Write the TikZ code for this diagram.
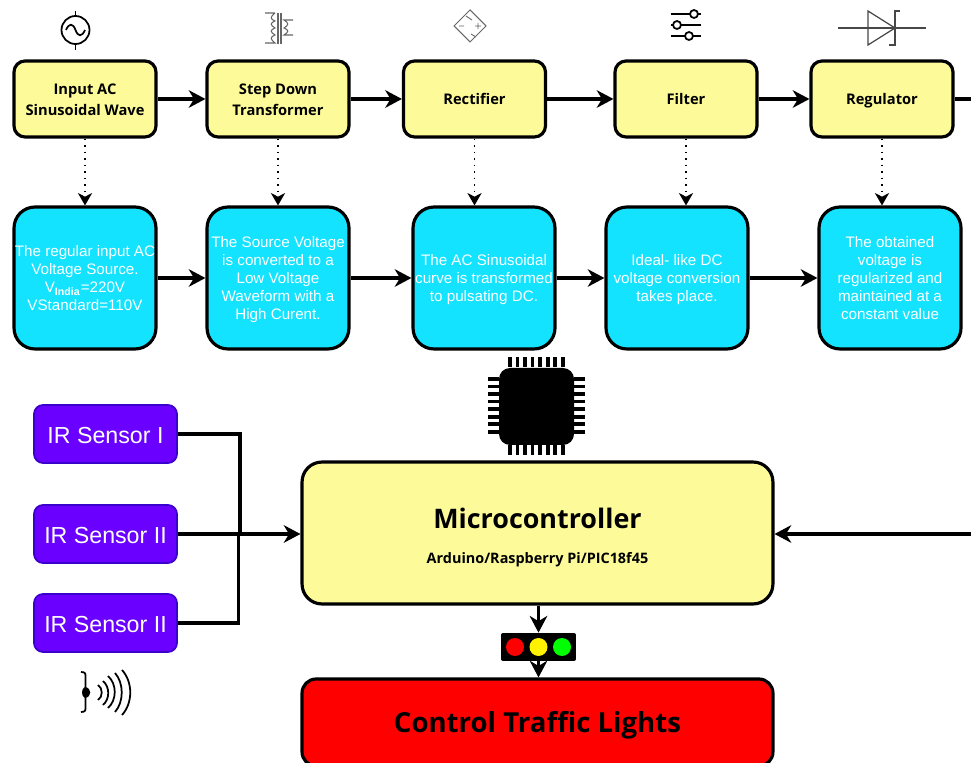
\documentclass[tikz,border=0pt]{standalone}
\usepackage{fontspec}
\setmainfont{Liberation Sans}
\newfontfamily\opensans{Open Sans}
\usepackage{tikz}
\usetikzlibrary{arrows.meta}

\definecolor{boxyellow}{HTML}{FDFB99}
\definecolor{boxcyan}{HTML}{13E3FF}
\definecolor{boxpurple}{HTML}{6A00FF}
\definecolor{edgepurple}{HTML}{3A00CC}
\definecolor{icongray}{HTML}{666666}

\newcommand{\yellowline}{\rule{0pt}{9.6pt}}
\newcommand{\cyanline}{\rule{0pt}{8.6pt}}

\tikzset{
	blockbox/.style={draw, line width=1.8pt, inner sep=0pt, align=center},
	yellowbox/.style={blockbox, fill=boxyellow, minimum width=2.84cm, minimum height=1.52cm, rounded corners=0.22cm, font=\opensans\bfseries\fontsize{8.35}{12}\selectfont, execute at begin node={\rule{0pt}{9.4pt}}, execute at end node={\rule[-2.6pt]{0pt}{2.6pt}}},
	cyanbox/.style={blockbox, fill=boxcyan, text=white, minimum width=2.84cm, minimum height=2.84cm, rounded corners=0.42cm, font=\fontsize{8.65}{10.2}\selectfont, execute at end node={\rule[-2pt]{0pt}{2pt}}},
	sensorbox/.style={draw=edgepurple, fill=boxpurple, line width=1pt, text=white, inner sep=0pt, minimum width=2.86cm, minimum height=1.16cm, rounded corners=0.18cm, font=\fontsize{13.2}{16}\selectfont, execute at begin node={\rule{0pt}{14pt}}, execute at end node={\rule[-3.4pt]{0pt}{3.4pt}}},
	wire/.style={line width=2pt, -{Stealth[length=9.5pt, width=10pt, inset=3pt]}},
	plainwire/.style={line width=2pt},
	dottedwire/.style={line width=0.9pt, dash pattern=on 1pt off 2.7pt, -{Stealth[length=7pt, width=8pt, inset=2pt]}},
	lamp/.style={circle, inner sep=0pt, minimum size=0.36cm},
	pins/.style={line width=5.7pt, dash pattern=on 2.2pt off 2.09pt}
}

\begin{document}
\begin{tikzpicture}[x=0.02cm, y=-0.02cm]
	\useasboundingbox (0,0) rectangle (971,763);
	% top row
	\draw (85,99) node(input) [yellowbox] {\yellowline Input AC\\Sinusoidal Wave};
	\draw (278,99) node(step) [yellowbox] {\yellowline Step Down\\Transformer};
	\draw (474.5,99) node(rect) [yellowbox] {Rectifier};
	\draw (686,99) node(filter) [yellowbox] {Filter};
	\draw (882,99) node(reg) [yellowbox] {Regulator};
	% second row
	\draw (85,278) node(dinput) [cyanbox] {\cyanline The regular input AC\\Voltage Source.\\V\textsubscript{\textbf{India}}=220V\\VStandard=110V};
	\draw (278,278) node(dstep) [cyanbox] {\cyanline The Source Voltage\\is converted to a\\Low Voltage\\Waveform with a\\High Curent.};
	\draw (484,278) node(drect) [cyanbox] {\cyanline The AC Sinusoidal\\curve is transformed\\to pulsating DC.};
	\draw (677,278) node(dfilter) [cyanbox] {\cyanline Ideal- like DC\\voltage conversion\\takes place.};
	\draw (890,278) node(dreg) [cyanbox] {\cyanline The obtained\\voltage is\\regularized and\\maintained at a\\constant value};
	% sensors
	\draw (105.5,434) node(s1) [sensorbox] {IR Sensor I};
	\draw (105.5,534) node(s2) [sensorbox] {IR Sensor II};
	\draw (105.5,623) node(s3) [sensorbox] {IR Sensor II};
	% lower blocks
	\draw (537.5,533) node(mcu) [blockbox, fill=boxyellow, minimum width=9.42cm, minimum height=2.84cm, rounded corners=0.4cm] {{\opensans\bfseries\fontsize{15.3}{18}\selectfont\rule{0pt}{17pt}Microcontroller}\\[7.7pt]{\opensans\bfseries\fontsize{8.2}{9}\selectfont Arduino/Raspberry Pi/PIC18f45}};
	\draw (537.5,722.5) node(red) [blockbox, fill=red, minimum width=9.42cm, minimum height=1.74cm, rounded corners=0.28cm, font=\opensans\bfseries\fontsize{15.7}{19}\selectfont] {\rule{0pt}{15pt}Control Traffic Lights};
	% traffic light
	\draw (538.5,647) node(tl) [fill=black, rounded corners=0.04cm, inner sep=0pt, minimum width=1.5cm, minimum height=0.56cm] {};
	\draw (515,647) node(lred) [lamp, fill=red] {};
	\draw (538.5,647) node(lyellow) [lamp, fill=yellow] {};
	\draw (562,647) node(lgreen) [lamp, fill=green] {};
	% free ends and joints
	\coordinate (outtop) at (971,99);
	\coordinate (outbot) at (971,534);
	\coordinate (j1) at (240,534);
	\coordinate (j3) at (238.5,534);
	% connectors
	\path[draw,wire] (input) -- (step);
	\path[draw,wire] (step) -- (rect);
	\path[draw,wire] (rect) -- (filter);
	\path[draw,wire] (filter) -- (reg);
	\path[draw,plainwire] (reg) -- (outtop);
	\path[draw,wire] (dinput) -- (dstep);
	\path[draw,wire] (dstep) -- (drect);
	\path[draw,wire] (drect) -- (dfilter);
	\path[draw,wire] (dfilter) -- (dreg);
	\path[draw,dottedwire] (input) -- (dinput);
	\path[draw,dottedwire] (step) -- (dstep);
	\path[draw,dottedwire] (rect) -- (rect |- drect.north);
	\path[draw,dottedwire] (filter) -- (filter |- dfilter.north);
	\path[draw,dottedwire] (reg) -- (reg |- dreg.north);
	\path[draw,plainwire] (s1) -| (j1);
	\path[draw,plainwire] (s3) -| (j3);
	\path[draw,wire] (s2) -- (s2 -| mcu.west);
	\path[draw,wire] (outbot) -- (mcu.east |- outbot);
	\path[draw,wire] (mcu.south -| tl) -- (tl.north);
	\path[draw,wire] (tl.south) -- (tl |- red.north);
	% AC source icon
	\draw[line width=1pt] (75.5,30) circle (14);
	\draw[line width=1pt] (75.5,11) -- (75.5,16);
	\draw[line width=1pt] (75.5,44) -- (75.5,50);
	\draw[line width=1pt] (66,30) .. controls (69,23) and (73,23) .. (75.5,30) .. controls (78,37) and (82,37) .. (85,30);
	% transformer icon
	\draw[icongray, line width=0.6pt] (265,13) -- (275,13) (275,13) .. controls (270,17) and (270,19) .. (275,21) .. controls (270,23) and (270,25) .. (275,28) .. controls (270,30) and (270,32) .. (275,35) .. controls (270,37) and (270,39) .. (275,43) -- (265,43);
	\draw[icongray, line width=0.6pt] (278,13) -- (278,44) (281,13) -- (281,44);
	\draw[icongray, line width=0.6pt] (293,20) -- (284,20) .. controls (289,23) and (289,25) .. (284,28) .. controls (289,30) and (289,32) .. (284,35) -- (293,35);
	% rectifier icon
	\draw[icongray, line width=0.6pt] (470,10) -- (486,26) -- (470,42) -- (454,26) -- cycle;
	\draw[icongray, line width=0.5pt] (466,16) -- (472,20) (471,34) -- (476,37) (459,26) -- (464,26) (475,26) -- (481,26) (478,23) -- (478,29);
	% filter icon
	\draw[line width=1pt] (671,14) -- (690,14) (698,14) -- (701,14);
	\draw[line width=1pt] (671,25) -- (673,25) (681,25) -- (701,25);
	\draw[line width=1pt] (671,36) -- (685,36) (693,36) -- (701,36);
	\draw[line width=1pt] (694,14) circle (4);
	\draw[line width=1pt] (677,25) circle (4);
	\draw[line width=1pt] (689,36) circle (4);
	% regulator icon
	\draw[icongray!70!black, line width=0.7pt] (838,28) -- (926,28);
	\draw[icongray!70!black, line width=0.7pt] (868,11) -- (868,45) -- (895,28) -- cycle;
	\draw[icongray!70!black, line width=0.7pt] (900,11) -- (895,11) -- (895,45) -- (889,45);
	% chip icon
	\fill[black, rounded corners=0.22cm] (499,368) rectangle (574,445);
	\draw[pins] (508,362) -- (566,362);
	\draw[pins] (508,450) -- (566,450);
	\draw[pins] (493.5,377) -- (493.5,435);
	\draw[pins] (579.5,377) -- (579.5,435);
	% sound icon
	\fill (85,687) .. controls (92,688) and (92,697) .. (85,698) .. controls (81,697) and (81,688) .. (85,687);
	\draw[line width=1pt] (81,672) .. controls (86,672) and (85.5,674) .. (85.5,678) -- (85.5,706) .. controls (85.5,710) and (86,712) .. (81,712);
	\draw[line width=1pt] (98,685) .. controls (103,688) and (103,697) .. (98,700);
	\draw[line width=1pt] (103,681) .. controls (110,687) and (110,699) .. (103,705);
	\draw[line width=1pt] (108,676) .. controls (117,684) and (117,700) .. (108,708);
	\draw[line width=1pt] (115,673) .. controls (124,683) and (124,702) .. (115,712);
	\draw[line width=1pt] (122,670) .. controls (133,682) and (133,703) .. (122,715);
\end{tikzpicture}
\end{document}
